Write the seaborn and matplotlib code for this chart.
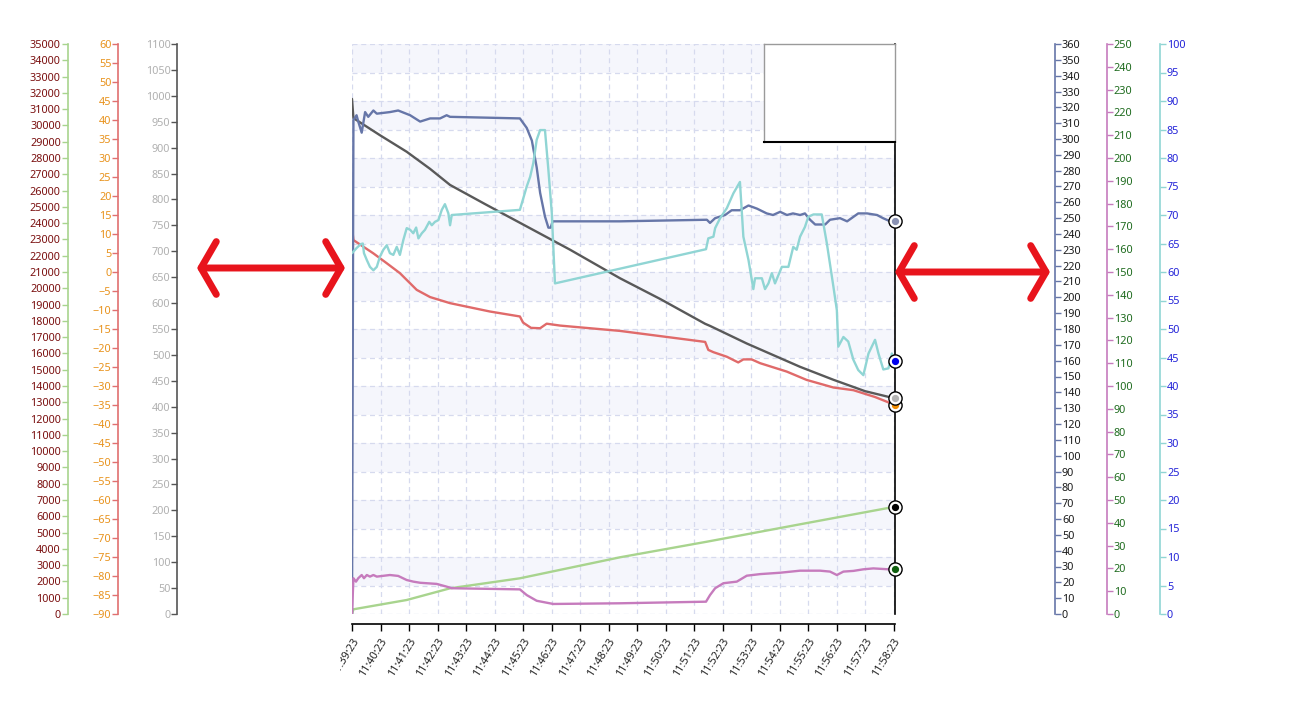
import numpy as np
import matplotlib
matplotlib.use("Agg")
import matplotlib.pyplot as plt
import seaborn as sns
from matplotlib.patches import FancyArrowPatch, Rectangle, ArrowStyle

# ---------------- data (time in minutes since 11:39:23) ----------------
tick_labels = ["11:39:23", "11:40:23", "11:41:23", "11:42:23", "11:43:23",
               "11:44:23", "11:45:23", "11:46:23", "11:47:23", "11:48:23",
               "11:49:23", "11:50:23", "11:51:23", "11:52:23", "11:53:23",
               "11:54:23", "11:55:23", "11:56:23", "11:57:23", "11:58:23"]

# slate series (0-360 axis)
slate_t = [0, 0.05, 0.16, 0.22, 0.34, 0.46, 0.57, 0.75, 0.87, 1.33,
           1.62, 2.04, 2.39, 2.74, 3.09, 3.32, 3.44, 5.89, 6.13, 6.31,
           6.48, 6.60, 6.77, 6.89, 6.97, 7.04, 9.40, 12.45, 12.56, 12.74,
           12.91, 13.09, 13.32, 13.61, 13.91, 14.21, 14.55, 14.77, 15.02, 15.26,
           15.47, 15.72, 15.89, 16.07, 16.25, 16.60, 16.77, 17.12, 17.37, 17.76,
           18.07, 18.42, 18.63, 18.88, 19.05]
slate_v = [0, 312, 315, 311, 304, 317, 314, 318, 316, 317,
           318, 315, 311, 313, 313, 315, 314, 313, 307, 299,
           282, 266, 251, 244, 244, 248, 248, 249, 247, 250,
           251, 252, 255, 255, 258, 256, 253, 252, 254, 252,
           253, 252, 253, 249, 246, 246, 249, 250, 248, 253,
           253, 252, 250, 248, 248]

# dark gray series (0-1100 axis)
gray_t = [0, 0.05, 0.98, 1.92, 2.74, 3.44, 4.67, 5.89, 7.65, 9.40,
          10.81, 12.39, 12.56, 13.85, 15.72, 16.89, 18.00, 19.05]
gray_v = [994, 957, 924, 892, 859, 828, 791, 755, 703, 648,
          608, 560, 556, 522, 477, 452, 430, 416]

# red series (-90..60 axis)
red_t = [0, 0.05, 0.75, 1.22, 1.68, 2.27, 2.74, 3.44, 4.84, 5.89,
         6.00, 6.28, 6.60, 6.83, 7.30, 9.40, 12.39, 12.50, 12.68, 13.15,
         13.55, 13.73, 14.02, 14.32, 15.25, 15.95, 16.89, 17.59, 18.35, 19.05]
red_v = [11.8, 8.4, 4.9, 2.3, -0.3, -4.7, -6.6, -8.2, -10.4, -11.7,
         -13.3, -14.7, -14.8, -13.6, -14.1, -15.5, -18.4, -20.5, -21.1, -22.3,
         -23.8, -23.0, -23.0, -24.0, -26.2, -28.4, -30.4, -31.1, -32.9, -35.0]

# teal series (0-100 axis)
teal_t = [0, 0.16, 0.31, 0.38, 0.42, 0.52, 0.63, 0.75, 0.87, 0.98,
          1.10, 1.22, 1.33, 1.45, 1.57, 1.68, 1.80, 1.92, 2.04, 2.15,
          2.25, 2.33, 2.45, 2.56, 2.71, 2.80, 2.91, 3.03, 3.15, 3.26,
          3.38, 3.44, 3.50, 5.89, 5.99, 6.13, 6.25, 6.36, 6.48, 6.60,
          6.77, 6.89, 7.01, 7.12, 12.42, 12.50, 12.68, 12.74, 12.91, 13.15,
          13.38, 13.61, 13.73, 13.91, 14.08, 14.14, 14.38, 14.49, 14.61, 14.73,
          14.84, 15.08, 15.31, 15.48, 15.60, 15.72, 15.89, 16.01, 16.19, 16.48,
          16.66, 16.89, 17.01, 17.06, 17.24, 17.41, 17.59, 17.76, 17.94, 18.12,
          18.35, 18.47, 18.64, 18.82, 18.94, 19.05]
teal_v = [63.3, 64.2, 64.9, 65.0, 63.3, 62.1, 60.9, 60.3, 60.9, 62.7,
          63.9, 64.7, 63.3, 63.0, 64.4, 63.0, 65.6, 67.7, 67.4, 66.8,
          67.8, 65.9, 66.8, 67.4, 68.8, 68.2, 68.8, 69.1, 70.9, 71.9,
          70.3, 68.2, 70.0, 70.9, 72.6, 75.0, 76.7, 79.1, 83.2, 84.9,
          84.9, 77.9, 70.3, 58.0, 64.0, 65.9, 66.2, 67.7, 69.4, 71.2,
          73.8, 75.8, 66.2, 62.1, 57.0, 58.9, 58.9, 57.0, 58.0, 59.8,
          58.0, 60.9, 60.9, 64.4, 63.9, 66.2, 67.9, 69.7, 70.1, 70.1,
          65.0, 57.4, 53.3, 46.9, 48.6, 47.8, 44.6, 42.8, 41.9, 45.7,
          48.1, 45.7, 42.9, 43.1, 45.7, 44.3]

# green series (0-35000 axis)
green_t = [0, 0.05, 1.92, 3.44, 5.89, 9.40, 12.45, 15.72, 19.05]
green_v = [0, 289, 860, 1578, 2192, 3481, 4439, 5508, 6588]

# pink series (0-250 axis)
pink_t = [0, 0.05, 0.14, 0.22, 0.34, 0.42, 0.52, 0.63, 0.75, 0.87,
          1.33, 1.62, 1.92, 2.15, 2.39, 2.62, 2.97, 3.32, 3.50, 5.89,
          6.13, 6.48, 7.06, 9.40, 12.42, 12.56, 12.74, 13.03, 13.50, 13.85,
          14.32, 15.02, 15.72, 16.42, 16.77, 17.01, 17.24, 17.59, 17.94, 18.29,
          18.83, 19.05]
pink_v = [0, 15.7, 14.2, 15.7, 17.1, 15.7, 17.1, 16.4, 17.1, 16.4,
          17.1, 16.7, 14.9, 14.2, 13.7, 13.5, 13.2, 12.0, 11.3, 10.8,
          8.3, 5.8, 4.4, 4.7, 5.4, 8.3, 11.3, 13.5, 14.2, 16.8,
          17.5, 18.1, 19.0, 19.0, 18.6, 17.1, 18.6, 18.9, 19.6, 20.0,
          19.6, 19.6]

# ---------------- style ----------------
sns.set_theme(style="white")
plt.rcParams["font.family"] = ["Noto Sans", "DejaVu Sans"]
FS = 7.8

W, H = 1291, 718
fig = plt.figure(figsize=(W / 100, H / 100), dpi=100)
fig.patch.set_facecolor("white")

L, R, T, B = 352, 895, 44, 614
ax = fig.add_axes([L / W, 1 - B / H, (R - L) / W, (B - T) / H])
XMAX = 19.05
ax.set_xlim(0, XMAX)
ax.set_ylim(0, 100)
ax.patch.set_facecolor("white")

# alternating bands + dashed grid
for i in range(20):
    if i % 2 == 1:
        ax.axhspan(i * 5, i * 5 + 5, color="#f5f6fc", zorder=0, lw=0)
ax.set_yticks(np.arange(0, 101, 5))
ax.grid(True, ls=(0, (4, 3)), color="#d6daee", lw=0.9)
ax.set_axisbelow(True)

for s in ["left", "top"]:
    ax.spines[s].set_visible(False)
ax.spines["right"].set_color("black")
ax.spines["right"].set_linewidth(1.2)
ax.spines["bottom"].set_color("black")
ax.spines["bottom"].set_linewidth(1.2)
ax.spines["bottom"].set_position(("outward", 7))

ax.set_xticks(range(len(tick_labels)))
ax.set_xticklabels(tick_labels, rotation=58, ha="right", va="top",
                   rotation_mode="anchor", fontsize=FS, color="#222222")
ax.tick_params(axis="x", bottom=True, length=5, width=1, color="black", pad=4)


def make_axis(pos, side, lim, step, line_color, label_color):
    a = ax.twinx()
    a.set_ylim(*lim)
    a.set_yticks(np.arange(lim[0], lim[1] + step / 2, step))
    for s in ["top", "bottom", "left", "right"]:
        a.spines[s].set_visible(False)
    sp = a.spines[side]
    sp.set_visible(True)
    sp.set_position(("axes", pos))
    sp.set_color(line_color)
    sp.set_linewidth(1.2)
    a.yaxis.set_ticks_position(side)
    a.tick_params(axis="y", direction="out", length=4, width=1, pad=1,
                  color=line_color, labelcolor=label_color, labelsize=FS)
    a.grid(False)
    a.patch.set_visible(False)
    return a


ax_green = make_axis((67.7 - L) / (R - L), "left", (0, 35000), 1000, "#a8d48e", "#7a0f0f")
ax_red = make_axis((118.3 - L) / (R - L), "left", (-90, 60), 5, "#e07070", "#e8921c")
ax_gray = make_axis((177.3 - L) / (R - L), "left", (0, 1100), 50, "#555555", "#b0b0b0")
ax_slate = make_axis((1055 - L) / (R - L), "right", (0, 360), 10, "#6676a8", "#1a1a1a")
ax_pink = make_axis((1106.7 - L) / (R - L), "right", (0, 250), 10, "#c67bbd", "#1e6b1e")
ax_teal = make_axis((1160 - L) / (R - L), "right", (0, 100), 5, "#90d5d4", "#2323d8")

# host axis: no y ticks on either side (twinx re-enables them)
ax.tick_params(axis="y", left=False, labelleft=False, right=False, labelright=False,
               length=0)

series = [
    (ax_pink, pink_t, pink_v, "#c67bbd", "#0f5f0f"),
    (ax_green, green_t, green_v, "#a8d48e", "#000000"),
    (ax_red, red_t, red_v, "#e06a6a", "#f08c00"),
    (ax_gray, gray_t, gray_v, "#595959", "#b4b4b4"),
    (ax_teal, teal_t, teal_v, "#90d5d4", "#0000ee"),
    (ax_slate, slate_t, slate_v, "#6676a8", "#8a92b4"),
]
for a, t, v, c, mc in series:
    sns.lineplot(x=np.array(t), y=np.array(v), ax=a, color=c, linewidth=1.7,
                 sort=False, estimator=None)
    a.set_xlabel("")
    a.set_ylabel("")
    a.set_xlim(0, XMAX)
    a.plot([t[-1]], [v[-1]], marker="o", ms=9.5, mfc="white", mec="black",
           mew=1.0, clip_on=False, zorder=10)
    a.plot([t[-1]], [v[-1]], marker="o", ms=4.2, mfc=mc, mec=mc,
           clip_on=False, zorder=11)

# small overview box at top-right
ax_in = fig.add_axes([764 / W, 1 - 142 / H, 131 / W, 98 / H])
ax_in.set_xticks([])
ax_in.set_yticks([])
ax_in.set_facecolor("white")
for s in ["left", "top", "right"]:
    ax_in.spines[s].set_color("#9a9a9a")
    ax_in.spines[s].set_linewidth(1)
ax_in.spines["bottom"].set_color("black")
ax_in.spines["bottom"].set_linewidth(1.5)

# clip the first x label at the left like the reference
fig.add_artist(Rectangle((300 / W, 1 - 700 / H), 40 / W, 80 / H,
                         facecolor="white", edgecolor="none", zorder=20))

# red double arrows
style = ArrowStyle("<->", head_length=11, head_width=19)
for (x0, x1, y) in [(197, 345, 268), (895, 1050, 272)]:
    arr = FancyArrowPatch((x0 / W, 1 - y / H), (x1 / W, 1 - y / H),
                          arrowstyle=style, mutation_scale=1,
                          color="#e8141c", lw=5, shrinkA=0, shrinkB=0,
                          capstyle="round", joinstyle="round", zorder=30)
    fig.add_artist(arr)

fig.savefig("out.png", dpi=100)
